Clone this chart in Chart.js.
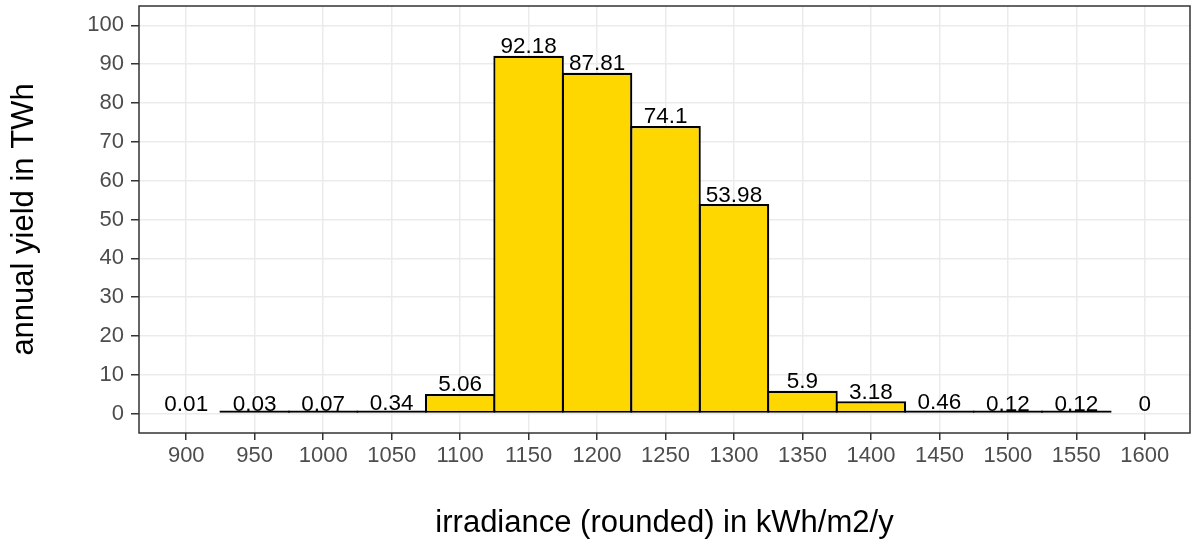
<!DOCTYPE html>
<html><head><meta charset="utf-8">
<script src="https://cdn.jsdelivr.net/npm/chart.js@4/dist/chart.umd.min.js"></script>
<style>html,body{margin:0;padding:0;background:#fff;overflow:hidden}#wrap{width:1192px;height:541px;position:relative}</style>
</head><body><div id="wrap"><canvas id="c" width="1192" height="541"></canvas></div>
<script>
// irradiance categories (kWh/m2/y) and annual yield (TWh)
const categories = [900, 950, 1000, 1050, 1100, 1150, 1200, 1250, 1300, 1350, 1400, 1450, 1500, 1550, 1600];
const yieldTWh   = [0.01, 0.03, 0.07, 0.34, 5.06, 92.18, 87.81, 74.1, 53.98, 5.9, 3.18, 0.46, 0.12, 0.12, 0];
const barCategories = [950, 1000, 1050, 1100, 1150, 1200, 1250, 1300, 1350, 1400, 1450, 1500, 1550];
const xTicks = [900, 950, 1000, 1050, 1100, 1150, 1200, 1250, 1300, 1350, 1400, 1450, 1500, 1550, 1600];
const yTicks = [0, 10, 20, 30, 40, 50, 60, 70, 80, 90, 100];
const xLimits = [865.5, 1633];
const yLimits = [-5, 105];
const xTitle = 'irradiance (rounded) in kWh/m2/y';
const yTitle = 'annual yield in TWh';

const FONT = '"Liberation Sans", Arial, sans-serif';

const barData = barCategories.map(c => ({ x: c, y: yieldTWh[categories.indexOf(c)] }));

const panelPlugin = {
  id: 'panel',
  afterDatasetsDraw(chart) {
    const { ctx, chartArea: a, scales: { x, y } } = chart;
    ctx.save();
    ctx.font = '22.5px ' + FONT;
    ctx.fillStyle = '#000000';
    ctx.textAlign = 'center';
    ctx.textBaseline = 'alphabetic';
    categories.forEach((c, i) => {
      ctx.fillText(String(yieldTWh[i]), x.getPixelForValue(c), y.getPixelForValue(yieldTWh[i]) - 2.5);
    });
    ctx.strokeStyle = '#333333';
    ctx.lineWidth = 1.5;
    ctx.strokeRect(a.left, a.top, a.right - a.left, a.bottom - a.top);
    ctx.restore();
  }
};

new Chart(document.getElementById('c'), {
  type: 'bar',
  data: {
    datasets: [{
      data: barData,
      backgroundColor: '#FFD700',
      borderColor: '#000000',
      borderWidth: 2.2,
      borderSkipped: false,
      minBarLength: 3,
      barPercentage: 1.03,
      categoryPercentage: 1
    }]
  },
  options: {
    responsive: false,
    animation: false,
    devicePixelRatio: 1,
    layout: { padding: { top: 6, right: 2, left: 0, bottom: 0 } },
    plugins: { legend: { display: false }, tooltip: { enabled: false } },
    scales: {
      x: {
        type: 'linear',
        min: xLimits[0], max: xLimits[1],
        offset: false,
        afterBuildTicks: s => { s.ticks = xTicks.map(v => ({ value: v })); },
        afterFit: s => { s.height = 108; s.paddingLeft = 0; s.paddingRight = 0; },
        grid: { offset: false, color: '#EBEBEB', lineWidth: 1.5, tickColor: '#333333', tickWidth: 1.5, tickLength: 7, drawTicks: true },
        border: { display: false },
        ticks: { autoSkip: false, maxRotation: 0, minRotation: 0, padding: 3, color: '#4D4D4D', font: { family: FONT, size: 22 }, callback: v => String(v) },
        title: { display: true, text: xTitle, color: '#000000', font: { family: FONT, size: 31, lineHeight: 1.1 }, padding: { top: 0, bottom: 0 } }
      },
      y: {
        type: 'linear',
        min: yLimits[0], max: yLimits[1],
        afterBuildTicks: s => { s.ticks = yTicks.map(v => ({ value: v })); },
        afterFit: s => { s.width = 139; s.paddingTop = 0; s.paddingBottom = 0; },
        grid: { color: '#EBEBEB', lineWidth: 1.5, tickColor: '#333333', tickWidth: 1.5, tickLength: 8, drawTicks: true },
        border: { display: false },
        ticks: { padding: 7, color: '#4D4D4D', font: { family: FONT, size: 22 }, callback: v => String(v) },
        title: { display: true, text: yTitle, color: '#000000', font: { family: FONT, size: 31, lineHeight: 1.2 }, padding: { top: 6, bottom: 0 } }
      }
    }
  },
  plugins: [panelPlugin]
});
</script>
</body></html>
